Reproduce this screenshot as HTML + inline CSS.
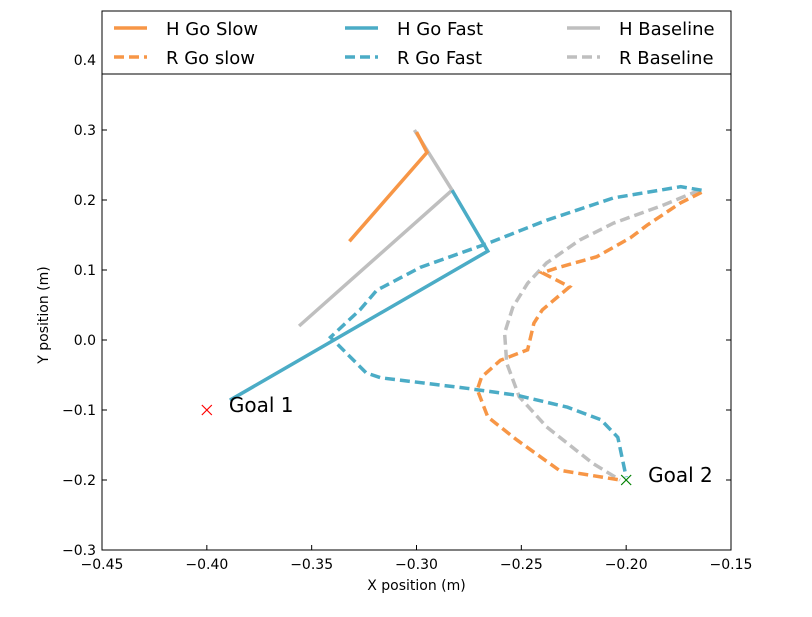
<!DOCTYPE html>
<html><head><meta charset="utf-8"><style>
body{margin:0;background:#fff;}
svg text{font-family:"DejaVu Sans","Liberation Sans",sans-serif;}
</style></head><body>
<svg id="chart" width="812" height="612" xmlns="http://www.w3.org/2000/svg">
<rect x="0" y="0" width="812" height="612" fill="#fff"/>
<g id="plot"></g>
<g id="axes"></g>
<g id="legend"></g>
</svg>
<script>
const xTicks=[-0.45,-0.40,-0.35,-0.30,-0.25,-0.20,-0.15];
const xTickLabels=["−0.45","−0.40","−0.35","−0.30","−0.25","−0.20","−0.15"];
const yTicks=[-0.3,-0.2,-0.1,0.0,0.1,0.2,0.3,0.4];
const yTickLabels=["−0.3","−0.2","−0.1","0.0","0.1","0.2","0.3","0.4"];
const hSlowX=[-0.332,-0.295,-0.300];
const hSlowY=[0.141,0.268,0.297];
const hFastX=[-0.389,-0.266,-0.283];
const hFastY=[-0.086,0.127,0.214];
const hBaseX=[-0.356,-0.283,-0.301];
const hBaseY=[0.020,0.214,0.300];
const rSlowX=[-0.164,-0.174,-0.190,-0.198,-0.214,-0.233,-0.240,-0.227,-0.240,-0.244,-0.247,-0.260,-0.269,-0.271,-0.266,-0.252,-0.232,-0.203];
const rSlowY=[0.211,0.196,0.164,0.146,0.119,0.103,0.096,0.076,0.043,0.024,-0.014,-0.029,-0.053,-0.071,-0.110,-0.143,-0.186,-0.200];
const rFastX=[-0.164,-0.174,-0.190,-0.206,-0.238,-0.266,-0.298,-0.319,-0.327,-0.341,-0.324,-0.317,-0.276,-0.252,-0.228,-0.212,-0.204,-0.200];
const rFastY=[0.214,0.219,0.211,0.203,0.171,0.138,0.104,0.071,0.043,0.004,-0.047,-0.054,-0.069,-0.079,-0.096,-0.114,-0.139,-0.196];
const rBaseX=[-0.165,-0.182,-0.206,-0.222,-0.238,-0.247,-0.254,-0.258,-0.257,-0.251,-0.238,-0.216,-0.203];
const rBaseY=[0.214,0.193,0.167,0.143,0.110,0.081,0.047,0.010,-0.033,-0.081,-0.124,-0.176,-0.200];
const goalX=[-0.40,-0.20];
const goalY=[-0.10,-0.20];
const goalLabels=["Goal 1","Goal 2"];

const L=102,R=731,T=60,B=550;
const xmin=-0.45,xmax=-0.15,ymin=-0.3,ymax=0.4;
const sx=v=>L+(v-xmin)/(xmax-xmin)*(R-L);
const sy=v=>B-(v-ymin)/(ymax-ymin)*(B-T);
const NS="http://www.w3.org/2000/svg";
function mk(tag,attrs,parent){const e=document.createElementNS(NS,tag);for(const k in attrs)e.setAttribute(k,attrs[k]);parent.appendChild(e);return e;}
const plot=document.getElementById('plot'),axes=document.getElementById('axes'),leg=document.getElementById('legend');
const ORANGE="#f79646",BLUE="#4bacc6",GRAY="#bfbfbf";
function line(xs,ys,color,dashed,name){
  const pts=xs.map((x,i)=>sx(x).toFixed(1)+","+sy(ys[i]).toFixed(1)).join(" ");
  const p=mk('polyline',{points:pts,fill:"none",stroke:color,"stroke-width":3.5,"stroke-dasharray":dashed?"10,5":"none"},plot);
  
  
}
line(hBaseX,hBaseY,GRAY,false,'h-baseline-line');
line(hSlowX,hSlowY,ORANGE,false,'h-go-slow-line');
line(hFastX,hFastY,BLUE,false,'h-go-fast-line');
line(rBaseX,rBaseY,GRAY,true,'r-baseline-line');
line(rSlowX,rSlowY,ORANGE,true,'r-go-slow-line');
line(rFastX,rFastY,BLUE,true,'r-go-fast-line');
const gcol=["#ff0000","#008000"];
goalX.forEach((gx,i)=>{
  const cx=sx(gx),cy=sy(goalY[i]);
  const g=mk('path',{d:`M${cx-5},${cy-5}L${cx+5},${cy+5}M${cx-5},${cy+5}L${cx+5},${cy-5}`,stroke:gcol[i],"stroke-width":1.2,fill:"none"},plot);
  
  
  const t=mk('text',{x:cx+22,y:cy+2,"font-size":20,fill:"#000"},plot);
  t.textContent=goalLabels[i];
  
  
});
const fr=mk('rect',{x:L,y:T,width:R-L,height:B-T,fill:"none",stroke:"#000","stroke-width":1},axes);


xTicks.forEach((v,i)=>{
  const x=sx(v);
  mk('line',{x1:x,y1:B,x2:x,y2:B-5,stroke:"#000"},axes);
  mk('line',{x1:x,y1:T,x2:x,y2:T+5,stroke:"#000"},axes);
  const t=mk('text',{x:x,y:B+19,"font-size":14,"text-anchor":"middle"},axes);
  t.textContent=xTickLabels[i];
  
  
});
yTicks.forEach((v,i)=>{
  const y=sy(v);
  mk('line',{x1:L,y1:y,x2:L+5,y2:y,stroke:"#000"},axes);
  mk('line',{x1:R,y1:y,x2:R-5,y2:y,stroke:"#000"},axes);
  const t=mk('text',{x:L-6,y:y+5,"font-size":14,"text-anchor":"end"},axes);
  t.textContent=yTickLabels[i];
  
  
});
const xt=mk('text',{x:(L+R)/2,y:590,"font-size":14,"text-anchor":"middle"},axes);
xt.textContent="X position (m)";


const yt=mk('text',{x:48,y:(T+B)/2+10,"font-size":14,"text-anchor":"middle",transform:`rotate(-90 48 ${(T+B)/2+10})`},axes);
yt.textContent="Y position (m)";


const lb=mk('rect',{x:102,y:11,width:629,height:63,fill:"#fff",stroke:"#000","stroke-width":1},leg);


const legLabels=["H Go Slow","R Go slow","H Go Fast","R Go Fast","H Baseline","R Baseline"];
const legColors=[ORANGE,ORANGE,BLUE,BLUE,GRAY,GRAY];
const colX=[114,345,567];
legLabels.forEach((lab,i)=>{
  const c=Math.floor(i/2),r=i%2;
  const y=28+r*29,x=colX[c];
  const g=mk('g',{},leg);
  
  
  mk('line',{x1:x,y1:y,x2:x+33,y2:y,stroke:legColors[i],"stroke-width":3.5,"stroke-dasharray":r?"10,5":"none"},g);
  const t=mk('text',{x:x+52,y:y+7,"font-size":18},g);
  t.textContent=lab;
});
</script>
</body></html>
